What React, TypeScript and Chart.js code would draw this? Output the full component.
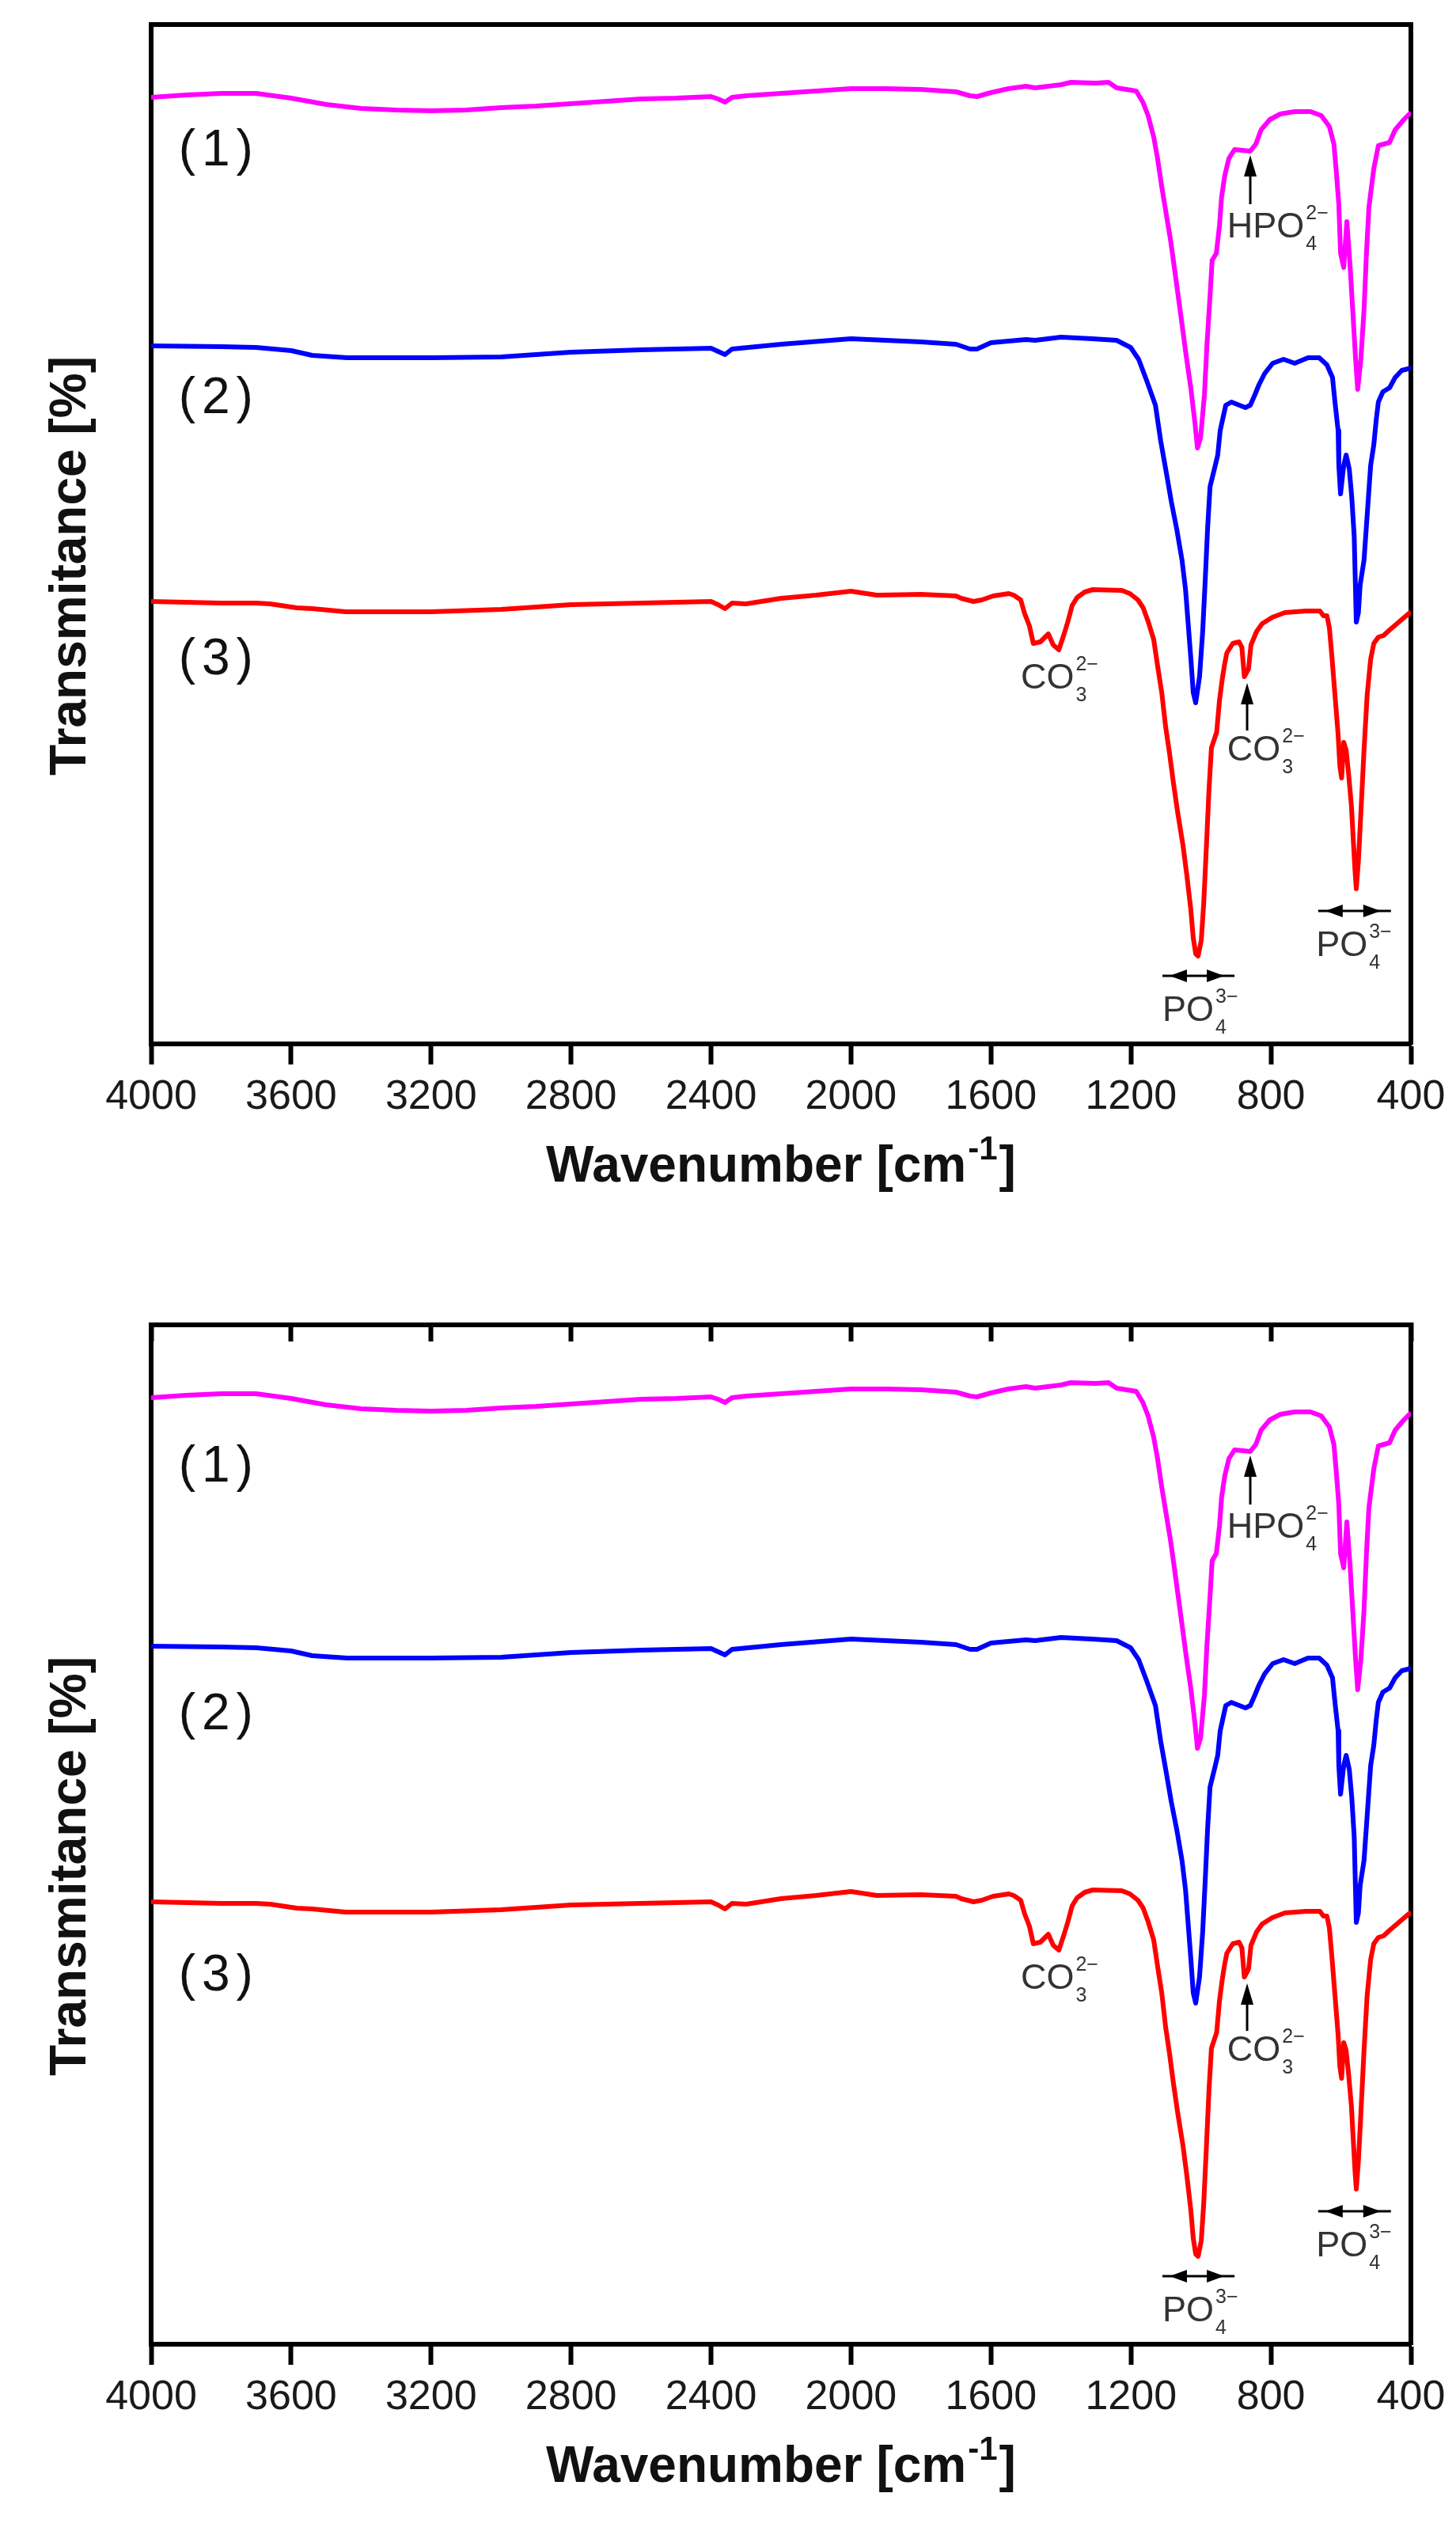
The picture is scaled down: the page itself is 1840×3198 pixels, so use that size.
import { useEffect, useRef } from "react"
import { Chart, registerables } from "chart.js"

Chart.register(...registerables)

const FONT = "'Liberation Sans', Arial, Helvetica, sans-serif"

// wavenumber axis (cm-1), drawn reversed
const wavenumberTicks = [4000, 3600, 3200, 2800, 2400, 2000, 1600, 1200, 800, 400]

// offset transmittance, arbitrary units (0 = bottom axis)
const signalMax = 1288

// (1) magenta
const sample1Wavenumber = [
  4000, 3900, 3800, 3700, 3600, 3500, 3400, 3300, 3200, 3100,
  3000, 2900, 2800, 2700, 2600, 2500, 2400, 2380, 2360, 2340,
  2300, 2200, 2100, 2000, 1900, 1800, 1700, 1660, 1640, 1600,
  1550, 1500, 1474, 1400, 1372, 1300, 1264, 1241, 1185, 1166,
  1151, 1135, 1124, 1112, 1099, 1087, 1076, 1065, 1054, 1042,
  1029, 1017, 1010, 1001, 990, 983, 974, 968, 956, 947,
  941, 932, 920, 904, 880, 859, 843, 828, 803, 773,
  732, 687, 656, 633, 620, 613, 606, 601, 592, 583,
  574, 565, 558, 552, 543, 534, 527, 520, 506, 493,
  461, 445, 420, 400,
]
const sample1Signal = [
  1196, 1199, 1201, 1201, 1195, 1187, 1182, 1180, 1179, 1180,
  1183, 1185, 1188, 1191, 1194, 1195, 1197, 1194, 1190, 1196,
  1198, 1201, 1204, 1207, 1207, 1206, 1203, 1198, 1197, 1202,
  1207, 1210, 1208, 1212, 1215, 1214, 1215, 1208, 1204, 1190,
  1173, 1146, 1119, 1083, 1048, 1016, 981, 945, 909, 869,
  829, 784, 753, 766, 820, 882, 945, 990, 999, 1034,
  1070, 1097, 1119, 1130, 1129, 1128, 1137, 1155, 1168, 1175,
  1178, 1178, 1173, 1159, 1137, 1101, 1061, 999, 981, 1039,
  985, 918, 865, 827, 865, 927, 999, 1057, 1106, 1135,
  1139, 1155, 1168, 1177,
]

// (2) blue
const sample2Wavenumber = [
  4000, 3800, 3700, 3600, 3540, 3440, 3200, 3000, 2800, 2600,
  2400, 2380, 2360, 2340, 2200, 2000, 1900, 1800, 1700, 1660,
  1640, 1600, 1500, 1474, 1400, 1311, 1241, 1201, 1178, 1155,
  1130, 1115, 1099, 1085, 1069, 1054, 1044, 1037, 1029, 1022,
  1015, 1004, 995, 988, 981, 974, 959, 952, 945, 936,
  929, 913, 873, 859, 846, 834, 818, 795, 764, 732,
  694, 662, 640, 624, 617, 608, 606, 601, 592, 585,
  576, 569, 562, 556, 550, 545, 534, 527, 515, 506,
  499, 493, 480, 461, 445, 426, 408, 400,
]
const sample2Signal = [
  882, 881, 880, 876, 870, 867, 867, 868, 874, 877,
  879, 875, 871, 878, 884, 891, 889, 887, 884, 878,
  878, 886, 890, 889, 893, 891, 889, 880, 865, 838,
  807, 762, 722, 686, 650, 611, 574, 534, 488, 444,
  431, 464, 521, 584, 651, 704, 731, 744, 775, 793,
  807, 811, 804, 807, 820, 833, 847, 860, 865, 860,
  867, 867, 858, 842, 811, 775, 731, 695, 731, 744,
  726, 691, 641, 533, 545, 580, 611, 655, 731, 757,
  789, 811, 824, 829, 842, 851, 853, 855,
]

// (3) red
const sample3Wavenumber = [
  4000, 3900, 3800, 3700, 3660, 3584, 3540, 3444, 3200, 3000,
  2800, 2600, 2400, 2380, 2360, 2340, 2300, 2200, 2100, 2000,
  1926, 1800, 1700, 1685, 1650, 1626, 1594, 1549, 1535, 1515,
  1504, 1490, 1479, 1459, 1436, 1422, 1406, 1391, 1380, 1368,
  1354, 1332, 1309, 1226, 1203, 1180, 1165, 1151, 1135, 1124,
  1112, 1101, 1090, 1079, 1067, 1051, 1040, 1029, 1022, 1015,
  1008, 999, 992, 984, 977, 970, 955, 947, 939, 933,
  926, 909, 891, 883, 876, 864, 857, 841, 825, 796,
  760, 700, 660, 650, 640, 633, 626, 617, 608, 603,
  598, 592, 585, 578, 570, 565, 560, 556, 550, 543,
  534, 525, 515, 506, 493, 478, 461, 445, 424, 400,
]
const sample3Signal = [
  559, 558, 557, 557, 556, 551, 550, 546, 546, 549,
  555, 557, 559, 555, 550, 557, 556, 563, 567, 572,
  567, 568, 566, 563, 559, 561, 566, 569, 567, 561,
  544, 528, 506, 508, 518, 504, 498, 518, 534, 554,
  564, 571, 574, 573, 569, 561, 551, 534, 511, 478,
  444, 401, 368, 331, 294, 250, 212, 170, 134, 114,
  111, 131, 178, 253, 321, 374, 394, 434, 461, 478,
  494, 506, 508, 501, 464, 474, 504, 521, 531, 539,
  545, 547, 547, 541, 541, 526, 491, 441, 391, 351,
  336, 381, 371, 341, 301, 261, 221, 196, 231, 291,
  371, 441, 486, 506, 514, 516, 523, 529, 537, 546,
]

const seriesNames = ["(1)", "(2)", "(3)"]
const seriesColors = ["#ff00ff", "#0000ff", "#ff0000"]
const seriesLabelWavenumber = 3815
const seriesLabelLevel = [1110, 797, 467]

// band assignments
const ionLabels = [
  { main: "HPO", sup: "2\u2212", sub: "4", wn: 925, level: 1019 },
  { main: "CO", sup: "2\u2212", sub: "3", wn: 1515, level: 449 },
  { main: "CO", sup: "2\u2212", sub: "3", wn: 925, level: 358 },
  { main: "PO", sup: "3\u2212", sub: "4", wn: 1110, level: 29 },
  { main: "PO", sup: "3\u2212", sub: "4", wn: 671, level: 111 },
]
const upArrows = [
  { wn: 859, from: 1061, to: 1123 },
  { wn: 868, from: 396, to: 456 },
]
const spanArrows = [
  { from: 1110, to: 904, level: 86 },
  { from: 665, to: 457, level: 168 },
]

const labelsPlugin = {
  id: "ftirLabels",
  afterDraw(chart: any, _args: any, opts: any) {
    const { ctx, chartArea, scales } = chart
    const xs = scales.x
    const ys = scales.y
    const shift = opts.labelShift || 0
    ctx.save()

    // (1) (2) (3)
    ctx.fillStyle = "#111"
    ctx.font = `64px ${FONT}`
    ctx.textAlign = "center"
    ctx.textBaseline = "alphabetic"
    ctx.letterSpacing = "8px"
    seriesNames.forEach((name, i) => {
      ctx.fillText(name, xs.getPixelForValue(seriesLabelWavenumber) + 4, ys.getPixelForValue(seriesLabelLevel[i]) + shift)
    })
    ctx.letterSpacing = "0px"

    // ion labels with super/subscripts
    ctx.textAlign = "left"
    ctx.fillStyle = "#333"
    ionLabels.forEach((ion) => {
      const px = xs.getPixelForValue(ion.wn)
      const py = ys.getPixelForValue(ion.level)
      ctx.font = `45px ${FONT}`
      ctx.fillText(ion.main, px, py)
      const w = ctx.measureText(ion.main).width
      ctx.font = `25px ${FONT}`
      ctx.fillText(ion.sup, px + w + 2, py - 23)
      ctx.fillText(ion.sub, px + w + 2, py + 16)
    })

    // arrows
    ctx.fillStyle = "#000"
    ctx.strokeStyle = "#000"
    ctx.lineWidth = 3
    upArrows.forEach((a) => {
      const px = xs.getPixelForValue(a.wn)
      const tail = ys.getPixelForValue(a.from)
      const tip = ys.getPixelForValue(a.to)
      ctx.beginPath()
      ctx.moveTo(px, tail)
      ctx.lineTo(px, tip + 20)
      ctx.stroke()
      ctx.beginPath()
      ctx.moveTo(px, tip)
      ctx.lineTo(px - 8, tip + 27)
      ctx.lineTo(px + 8, tip + 27)
      ctx.closePath()
      ctx.fill()
    })
    spanArrows.forEach((s) => {
      const x1 = xs.getPixelForValue(s.from)
      const x2 = xs.getPixelForValue(s.to)
      const py = ys.getPixelForValue(s.level)
      ctx.beginPath()
      ctx.moveTo(x1, py)
      ctx.lineTo(x2, py)
      ctx.stroke()
      ctx.beginPath()
      ctx.moveTo(x1 + 9, py)
      ctx.lineTo(x1 + 31, py - 8)
      ctx.lineTo(x1 + 31, py + 8)
      ctx.closePath()
      ctx.fill()
      ctx.beginPath()
      ctx.moveTo(x2 - 13, py)
      ctx.lineTo(x2 - 35, py - 8)
      ctx.lineTo(x2 - 35, py + 8)
      ctx.closePath()
      ctx.fill()
    })

    // axis titles
    ctx.fillStyle = "#111"
    ctx.save()
    ctx.translate(100, chartArea.top + 684)
    ctx.rotate(-Math.PI / 2)
    ctx.font = `bold 64px ${FONT}`
    ctx.textAlign = "center"
    ctx.fillText("Transmitance [%]", 0, 0)
    ctx.restore()

    const base = chartArea.bottom + 174
    ctx.font = `bold 64px ${FONT}`
    const main = "Wavenumber [cm"
    const wMain = ctx.measureText(main).width
    const wClose = ctx.measureText("]").width
    ctx.font = `bold 42px ${FONT}`
    const wSup = ctx.measureText("-1").width + 4
    let sx = (chartArea.left + chartArea.right) / 2 - (wMain + wSup + wClose) / 2
    ctx.font = `bold 64px ${FONT}`
    ctx.fillText(main, sx, base)
    sx += wMain
    ctx.font = `bold 42px ${FONT}`
    ctx.fillText("-1", sx + 2, base - 28)
    sx += wSup
    ctx.font = `bold 64px ${FONT}`
    ctx.fillText("]", sx, base)

    ctx.restore()
  },
}

function makeSeries(wn: number[], sig: number[]) {
  return wn.map((x, i) => ({ x, y: sig[i] }))
}

interface PanelProps {
  top: number
  height: number
  topTicks: boolean
  labelShift: number
}

function SpectraPanel({ top, height, topTicks, labelShift }: PanelProps) {
  const canvasRef = useRef<HTMLCanvasElement>(null)

  useEffect(() => {
    if (!canvasRef.current) return
    const ctx = canvasRef.current.getContext("2d")
    if (!ctx) return

    const setTicks = (scale: any) => {
      scale.ticks = wavenumberTicks.map((v) => ({ value: v }))
    }

    const chart = new Chart(ctx, {
      type: "line",
      data: {
        datasets: [
          makeSeries(sample1Wavenumber, sample1Signal),
          makeSeries(sample2Wavenumber, sample2Signal),
          makeSeries(sample3Wavenumber, sample3Signal),
        ].map((data, i) => ({
          label: seriesNames[i],
          data,
          borderColor: seriesColors[i],
          backgroundColor: seriesColors[i],
          borderWidth: 6,
          pointRadius: 0,
          tension: 0,
          borderJoinStyle: "round" as const,
          fill: false,
        })),
      },
      options: {
        responsive: false,
        animation: false,
        devicePixelRatio: 1,
        layout: { padding: 0 },
        scales: {
          x: {
            type: "linear",
            position: "bottom",
            min: 400,
            max: 4000,
            reverse: true,
            afterBuildTicks: setTicks,
            afterFit: (s: any) => {
              s.height = height - 1311
            },
            grid: { display: true, drawOnChartArea: false, drawTicks: true, tickLength: 26, tickWidth: 6, tickColor: "#000" },
            border: { display: true, width: 6, color: "#000" },
            ticks: {
              autoSkip: false,
              maxRotation: 0,
              minRotation: 0,
              padding: 10,
              color: "#1a1a1a",
              font: { family: FONT, size: 52 },
              callback: (v: any) => String(v),
            },
          },
          x2: {
            type: "linear",
            position: "top",
            min: 400,
            max: 4000,
            reverse: true,
            afterBuildTicks: setTicks,
            afterFit: (s: any) => {
              s.height = 23
            },
            grid: { display: topTicks, drawOnChartArea: false, drawTicks: true, tickLength: -21, tickWidth: 6, tickColor: "#000" },
            border: { display: true, width: 6, color: "#000" },
            ticks: { display: false },
          },
          y: {
            type: "linear",
            position: "left",
            min: 0,
            max: signalMax,
            afterFit: (s: any) => {
              s.width = 183
            },
            grid: { display: false },
            border: { display: true, width: 6, color: "#000" },
            ticks: { display: false },
          },
          y2: {
            type: "linear",
            position: "right",
            min: 0,
            max: signalMax,
            afterFit: (s: any) => {
              s.width = 65
            },
            grid: { display: false },
            border: { display: true, width: 6, color: "#000" },
            ticks: { display: false },
          },
        },
        plugins: {
          legend: { display: false },
          tooltip: { enabled: false },
          ftirLabels: { labelShift },
        } as any,
      },
      plugins: [labelsPlugin],
    })

    return () => {
      chart.destroy()
    }
  }, [height, topTicks, labelShift])

  return (
    <div style={{ position: "absolute", left: 0, top, width: 1840, height, background: "#fff" }}>
      <canvas ref={canvasRef} width={1840} height={height} style={{ display: "block", width: 1840, height }} />
    </div>
  )
}

export default function App() {
  return (
    <div style={{ position: "relative", width: 1840, height: 3198, background: "#fff" }}>
      <SpectraPanel top={0} height={1643} topTicks={false} labelShift={0} />
      <SpectraPanel top={1643} height={1555} topTicks={true} labelShift={20} />
    </div>
  )
}
